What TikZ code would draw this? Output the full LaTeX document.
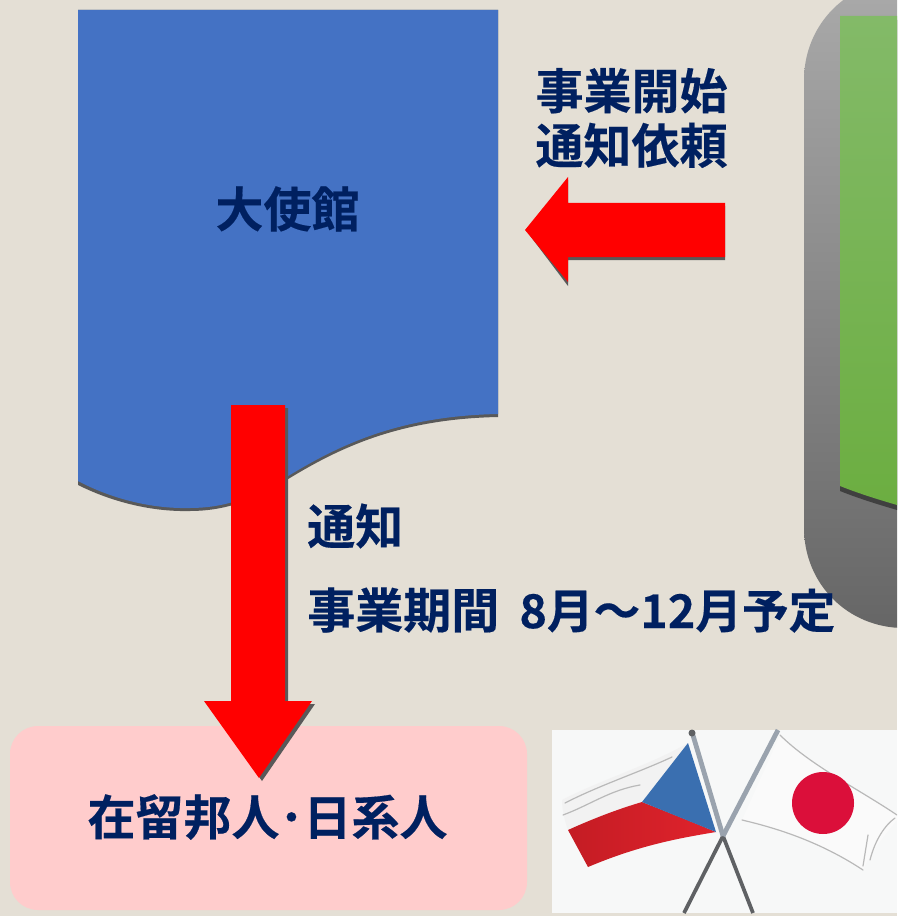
\documentclass[tikz,border=0pt]{standalone}
\usepackage{fontspec}
\setmainfont[FakeBold=0.35]{Noto Sans CJK JP Bold}
\usetikzlibrary{shadings,fadings}
\definecolor{bgc}{HTML}{E4DFD5}
\definecolor{navy}{HTML}{002060}
\definecolor{docblue}{HTML}{4472C4}
\definecolor{edgec}{HTML}{595959}
\definecolor{pinkc}{HTML}{FFCCCC}
\definecolor{panelT}{HTML}{AAAAAA}
\definecolor{panelB}{HTML}{666666}
\definecolor{greenT}{HTML}{83BA68}
\definecolor{greenB}{HTML}{6CAE41}
\definecolor{flagred}{HTML}{E0232C}
\definecolor{flagdark}{HTML}{C41C24}
\definecolor{jpred}{HTML}{DB0F3A}
\definecolor{czblue}{HTML}{3A6FB0}
\definecolor{imgbg}{HTML}{F7F8F8}
\definecolor{poleC}{HTML}{5F6164}
\definecolor{poleU}{HTML}{9AA3AE}
\tikzset{
  x=0.75pt,y=-0.75pt,
  lbl/.style={text=navy,inner sep=0pt,font=\fontsize{36}{41}\selectfont,align=center},
  lblL/.style={lbl,anchor=west},
  redarrow/.style={fill=red,draw=none},
  arrowshadow/.style={fill=edgec,draw=none},
  pole/.style={draw=poleC,line width=2.8pt},
  poleup/.style={draw=poleU,line width=3.6pt},
  fold/.style={draw=gray!55,line width=0.9pt,line cap=round},
}
\begin{document}
\begin{tikzpicture}
\useasboundingbox (0,0) rectangle (897,916);
\begin{scope}
\clip (0,0) rectangle (897,916);
\fill[bgc] (0,0) rectangle (897,916);
% grey panel
\path[top color=panelT,bottom color=panelB,draw=none]
  (1100,-20) -- (904,-20) .. controls (848,-20) and (804,24) .. (804,80) -- (804,528)
  .. controls (804,584) and (848,628) .. (904,628) -- (1100,628) -- cycle;
% green document
\fill[black!75] (840,20) -- (840,491) .. controls (860,499) and (880,505) .. (897,510) -- (897,20) -- cycle;
\path[top color=greenT,bottom color=greenB,draw=none]
  (840,16) -- (840,486) .. controls (860,494) and (880,500) .. (897,505) -- (897,16) -- cycle;
% blue document
\fill[edgec]
  (78,10) -- (498,10) -- (498,417)
  .. controls (400,419) and (340,447) .. (285,481)
  .. controls (250,503) and (220,511) .. (190,511)
  .. controls (150,512) and (110,501) .. (78,485) -- cycle;
\fill[docblue]
  (78,10) -- (498,10) -- (498,414)
  .. controls (400,416) and (340,444) .. (285,478)
  .. controls (250,500) and (220,508) .. (190,508)
  .. controls (150,509) and (110,498) .. (78,481) -- cycle;
% left arrow
\fill[arrowshadow] (528,233) -- (568,180) -- (568,206) -- (725,206) -- (725,260) -- (568,260) -- (568,286) -- cycle;
\fill[redarrow] (525,230) -- (568,177) -- (568,203) -- (725,203) -- (725,257) -- (568,257) -- (568,282) -- cycle;
% pink box
\fill[pinkc,rounded corners=21pt] (10,726) rectangle (527,910);
% down arrow
\fill[arrowshadow] (235,408) -- (288,408) -- (288,704) -- (315,704) -- (262,781) -- (208,704) -- (235,704) -- cycle;
\fill[redarrow] (231,405) -- (285,405) -- (285,701) -- (312,701) -- (259,778) -- (204,701) -- (231,701) -- cycle;
% flags picture
\fill[imgbg] (552,730) rectangle (897,913);
\draw[pole] (723,836) -- (753,913);
\draw[pole] (723,836) -- (684,913);
\draw[poleup] (692,732) -- (723,836);
\draw[poleup] (778,730) -- (723,836);
\fill[poleC] (692,733) circle (3.5);
% Czech flag
\fill[white!90!gray] (562,800) .. controls (600,780) and (650,765) .. (688,743) -- (642,802) .. controls (615,810) and (590,820) .. (568,830) .. controls (565,822) and (562,810) .. cycle;
\draw[fold] (563,815) .. controls (590,805) and (610,790) .. (640,785);
\draw[fold] (565,803) .. controls (600,785) and (640,772) .. (672,757);
\path[left color=flagdark,right color=flagred,draw=none] (568,830) .. controls (590,820) and (615,810) .. (642,802) .. controls (670,813) and (695,823) .. (716,832) .. controls (680,838) and (640,845) .. (588,867) -- cycle;
\fill[czblue] (688,743) -- (716,832) -- (642,802) -- cycle;
% Japanese flag
\fill[white!96!gray] (780,735) .. controls (810,765) and (860,790) .. (897,815) -- (897,820) .. controls (885,835) and (872,850) .. (863,870) .. controls (825,845) and (785,830) .. (742,820) -- cycle;
\draw[fold] (780,735) .. controls (810,765) and (860,790) .. (897,815);
\draw[fold] (863,870) .. controls (825,845) and (785,830) .. (742,820);
\draw[fold] (870,860) .. controls (875,840) and (885,825) .. (895,818);
\draw[fold] (863,866) -- (868,835);
\fill[jpred] (823,803) circle (31);
% labels
\node[lbl] (daishikan) at (287.5,209) {大使館};
\node[lbl] (irai) at (631.5,118) {事業開始\\通知依頼};
\node[lblL] (tsuchi) at (307,526) {通知};
\node[lblL] (kikan) at (307,610) {事業期間\hspace{0.42em}{\fontsize{35}{41}\selectfont 8月～12月予定}};
\node[lbl] (zairyu) at (267.5,817) {在留邦人･日系人};
\end{scope}
\end{tikzpicture}
\end{document}
